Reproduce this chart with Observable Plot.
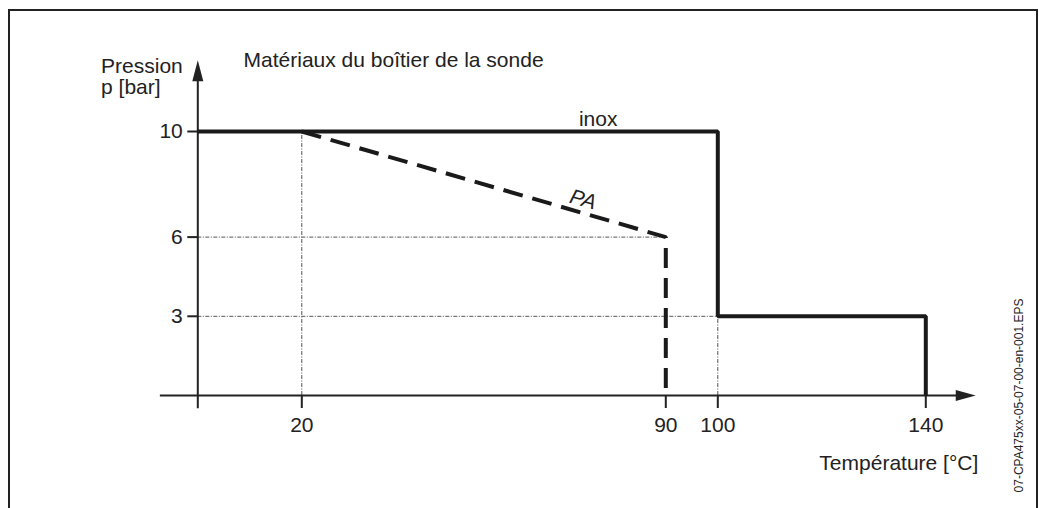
<!DOCTYPE html>
<html>
<head>
<meta charset="utf-8">
<script src="https://cdn.jsdelivr.net/npm/d3@7"></script>
<script src="https://cdn.jsdelivr.net/npm/@observablehq/plot@0.6"></script>
<style>
  html, body { margin: 0; padding: 0; background: #fff; overflow: hidden; }
  #wrap { position: relative; width: 1039px; height: 508px; }
  #chart { position: absolute; left: 0; top: 0; }
  #frame { position: absolute; left: 8px; top: 9px; width: 1026px; height: 520px;
           border: 2px solid #222; border-bottom: none; pointer-events: none; }
</style>
</head>
<body>
<div id="wrap"><div id="chart"></div><div id="frame"></div></div>
<script>
// ---- data ----
const inoxTemp = [0, 100, 100, 140, 140];
const inoxPress = [10, 10, 3, 3, 0];
const paTemp = [20, 90, 90];
const paPress = [10, 6, 0];
const xTicks = [20, 90, 100, 140];
const yTicks = [3, 6, 10];
// dash-dot reference lines
const gridV = [{x: 20, y1: 0, y2: 10}, {x: 100, y1: 0, y2: 3}];
const gridH = [{y: 6, x1: 0, x2: 90}, {y: 3, x1: 0, x2: 100}];
// axis extents (data units)
const xAxisExt = {x1: -7.2, x2: 146, tip: 149.6};
const yAxisExt = {y1: -0.5, y2: 11.95, tip: 12.7};
// labels
const startLabels = [
  {x: -18.6, y: 12.48, text: "Pression"},
  {x: -18.6, y: 11.66, text: "p [bar]"},
  {x: 8.8, y: 12.68, text: "Matériaux du boîtier de la sonde"}
];
const midLabels = [{x: 77.0, y: 10.47, text: "inox"}];
const endLabels = [{x: 150.1, y: -2.58, text: "Température [°C]"}];
const paLabel = [{x: 74.1, y: 7.42, text: "PA"}];
const fileLabel = [{x: 158.0, y: 0, text: "07-CPA475xx-05-07-00-en-001.EPS"}];

const arrowRight = {draw(ctx) { ctx.moveTo(0, 0); ctx.lineTo(-20, -5.5); ctx.lineTo(-20, 5.5); ctx.closePath(); }};
const arrowUp = {draw(ctx) { ctx.moveTo(0, 0); ctx.lineTo(-5.5, 21); ctx.lineTo(5.5, 21); ctx.closePath(); }};

const ink = "#222";
const fs = 21;
const chart = Plot.plot({
  width: 1039,
  height: 508,
  marginLeft: 197.3,
  marginRight: 113.7,
  marginTop: 131,
  marginBottom: 113,
  x: {domain: [0, 140]},
  y: {domain: [0, 10]},
  style: {fontFamily: "'Liberation Sans', Arial, Helvetica, sans-serif", fontSize: fs + "px", color: ink, background: "transparent", overflow: "visible"},
  marks: [
    Plot.ruleX(gridV, {x: "x", y1: "y1", y2: "y2", stroke: "#555", strokeWidth: 1, strokeDasharray: "4,1.5,1,1.5"}),
    Plot.ruleY(gridH, {y: "y", x1: "x1", x2: "x2", stroke: "#555", strokeWidth: 1, strokeDasharray: "4,1.5,1,1.5"}),
    Plot.ruleY([0], {x1: xAxisExt.x1, x2: xAxisExt.x2, stroke: ink, strokeWidth: 2}),
    Plot.ruleX([0], {y1: yAxisExt.y1, y2: yAxisExt.y2, stroke: ink, strokeWidth: 2}),
    Plot.dot([0], {x: xAxisExt.tip, y: 0, symbol: arrowRight, fill: ink, stroke: "none"}),
    Plot.dot([0], {x: 0, y: yAxisExt.tip, symbol: arrowUp, fill: ink, stroke: "none"}),
    Plot.axisX({ticks: xTicks, tickSize: 13, tickPadding: 9, label: null, strokeWidth: 2, fontSize: fs}),
    Plot.axisY({ticks: yTicks, tickSize: 10, tickPadding: 5, label: null, strokeWidth: 2, fontSize: fs}),
    Plot.line(inoxTemp.map((t, i) => ({t, p: inoxPress[i]})), {x: "t", y: "p", stroke: "#1a1a1a", strokeWidth: 4, strokeLinejoin: "miter", strokeLinecap: "butt"}),
    Plot.line(paTemp.map((t, i) => ({t, p: paPress[i]})), {x: "t", y: "p", stroke: "#1a1a1a", strokeWidth: 4, strokeDasharray: "20,10", strokeLinejoin: "miter", strokeLinecap: "butt"}),
    Plot.text(startLabels, {x: "x", y: "y", text: "text", textAnchor: "start", fontSize: fs, fill: ink}),
    Plot.text(midLabels, {x: "x", y: "y", text: "text", textAnchor: "middle", fontSize: fs, fill: ink}),
    Plot.text(endLabels, {x: "x", y: "y", text: "text", textAnchor: "end", fontSize: fs, fill: ink}),
    Plot.text(paLabel, {x: "x", y: "y", text: "text", fontSize: fs, fontStyle: "italic", rotate: 16, fill: ink}),
    Plot.text(fileLabel, {x: "x", y: "y", text: "text", fontSize: 12, rotate: -90, fill: ink})
  ]
});
document.getElementById("chart").appendChild(chart);
</script>
</body>
</html>
